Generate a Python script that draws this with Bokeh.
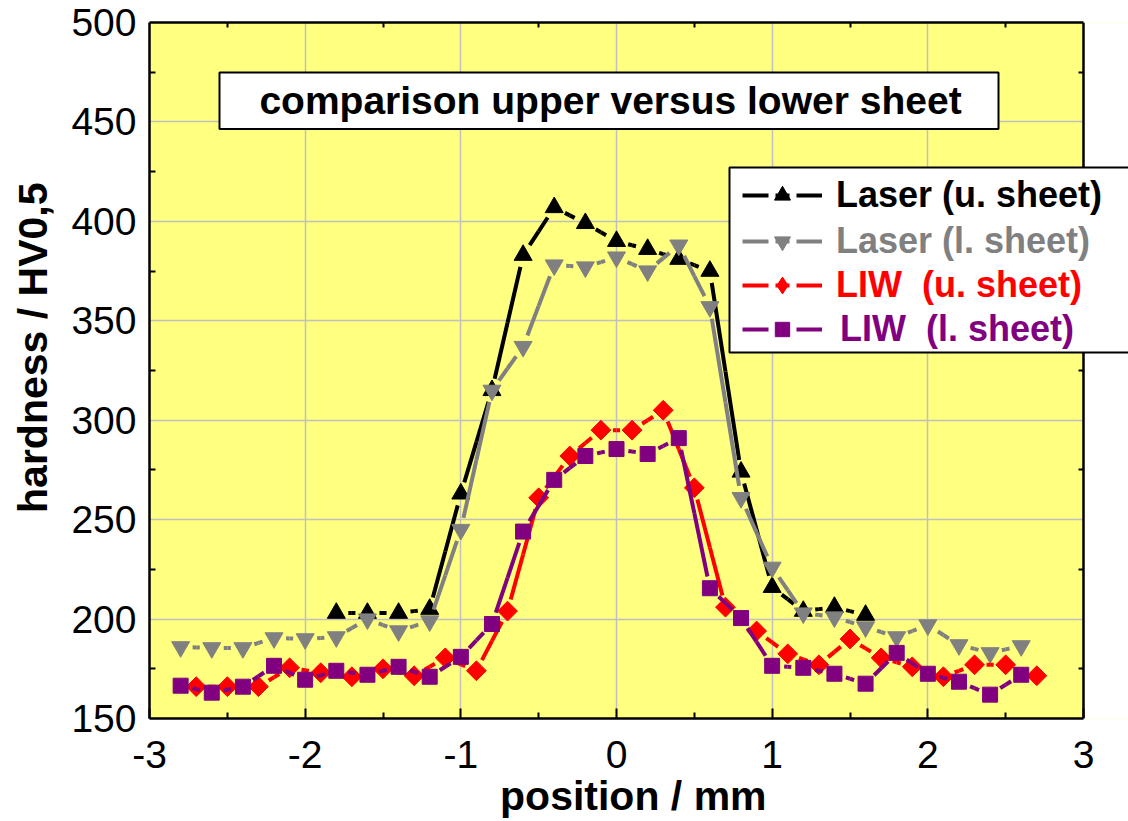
import numpy as np
from bokeh.plotting import figure
from bokeh.models import (FixedTicker, LinearAxis, Legend, LegendItem, Label,
                          BoxAnnotation, CustomJSTickFormatter)
from bokeh.embed import file_html
from bokeh.resources import INLINE

# ---------------- data ----------------
x_laser_u = [-1.8, -1.6, -1.4, -1.2, -1.0, -0.8, -0.6, -0.4, -0.2, 0.0,
             0.2, 0.4, 0.6, 0.8, 1.0, 1.2, 1.4, 1.6]
hv_laser_u = [203, 203, 203, 205, 263, 315, 383, 407, 399, 390,
              386, 381, 375, 274, 216, 204, 206, 202]

x_laser_l = [-2.8, -2.6, -2.4, -2.2, -2.0, -1.8, -1.6, -1.4, -1.2, -1.0,
             -0.8, -0.6, -0.4, -0.2, 0.0, 0.2, 0.4, 0.6, 0.8, 1.0,
             1.2, 1.4, 1.6, 1.8, 2.0, 2.2, 2.4, 2.6]
hv_laser_l = [186, 185.5, 185.5, 190.5, 190, 191, 200, 194, 199, 245,
              315, 337, 378, 377, 382, 375, 388, 357, 261, 226,
              203, 201, 196, 191, 197, 187, 183, 186.5]

x_liw_u = [-2.7, -2.5, -2.3, -2.1, -1.9, -1.7, -1.5, -1.3, -1.1, -0.9,
           -0.7, -0.5, -0.3, -0.1, 0.1, 0.3, 0.5, 0.7, 0.9, 1.1,
           1.3, 1.5, 1.7, 1.9, 2.1, 2.3, 2.5, 2.7]
hv_liw_u = [166, 166, 166, 175.5, 173, 171, 175, 171.5, 180.5, 174,
            204, 261, 282, 295, 295, 305, 266, 206, 194, 182.5,
            177, 190, 180.5, 176, 171, 177, 177, 171.5]

x_liw_l = [-2.8, -2.6, -2.4, -2.2, -2.0, -1.8, -1.6, -1.4, -1.2, -1.0,
           -0.8, -0.6, -0.4, -0.2, 0.0, 0.2, 0.4, 0.6, 0.8, 1.0,
           1.2, 1.4, 1.6, 1.8, 2.0, 2.2, 2.4, 2.6]
hv_liw_l = [166.5, 163, 166, 176.5, 169.5, 174, 172, 176, 171, 181,
            197.5, 244, 270, 282, 285.5, 283, 291, 215.5, 200.5, 176.5,
            175.5, 172.5, 167.5, 183, 172.5, 168.5, 162, 172]

series_labels = ["Laser (u. sheet)", "Laser (l. sheet)", "LIW  (u. sheet)", "LIW  (l. sheet)"]

x_ticks = [-3, -2, -1, 0, 1, 2, 3]
x_tick_labels = ["-3", "-2", "-1", "0", "1", "2", "3"]
y_ticks = [150, 200, 250, 300, 350, 400, 450, 500]
y_tick_labels = ["150", "200", "250", "300", "350", "400", "450", "500"]

x_title = "position / mm"
y_title = "hardness / HV0,5"
note_text = "comparison upper versus lower sheet"

# ---------------- styling ----------------
FONT = "Liberation Sans"
BG = "#FFFF80"
GRID = "#C0C0C0"
colors = ["#000000", "#808080", "#FF0000", "#800080"]
LW = 4
NBSP = "\u00a0"

# plot area: x=-3..3 spans 934 px starting at px 149; frame continues to the
# right page edge so that the legend may overhang the plot area like the original
PX_PER_X = 934 / 6.0
PX_PER_Y = 696 / 350.0
X_END = -3 + (1128 - 149) / PX_PER_X

p = figure(width=1128, height=821, x_range=(-3, X_END), y_range=(150, 500),
           output_backend="svg", toolbar_location=None,
           min_border_left=149, min_border_right=0,
           min_border_top=22, min_border_bottom=103)
p.background_fill_color = BG
p.border_fill_color = "white"
p.outline_line_color = None

x_minor = [t + 0.5 for t in x_ticks[:-1]]
y_minor = [t + 25 for t in y_ticks[:-1]]
blank = CustomJSTickFormatter(code="return ''")

xa = p.xaxis[0]
xa.bounds = (x_ticks[0], x_ticks[-1])
xa.ticker = FixedTicker(ticks=x_ticks, minor_ticks=x_minor)
xa.major_label_overrides = {t: s for t, s in zip(x_ticks, x_tick_labels)}
xa.major_label_text_font = FONT
xa.major_label_text_font_size = "39px"
xa.major_label_text_color = "black"
xa.major_label_standoff = 22
xa.major_tick_in = 10
xa.major_tick_out = 0
xa.minor_tick_in = 6
xa.minor_tick_out = 0
xa.axis_line_width = 2.5
xa.major_tick_line_width = 2
xa.minor_tick_line_width = 2
xa.axis_label = x_title + NBSP
xa.axis_label_text_font = FONT
xa.axis_label_text_font_size = "41px"
xa.axis_label_text_font_style = "bold"
xa.axis_label_text_color = "black"
xa.axis_label_standoff = 2

ya = p.yaxis[0]
ya.ticker = FixedTicker(ticks=y_ticks, minor_ticks=y_minor)
ya.major_label_overrides = {t: s for t, s in zip(y_ticks, y_tick_labels)}
ya.major_label_text_font = FONT
ya.major_label_text_font_size = "39px"
ya.major_label_text_color = "black"
ya.major_label_standoff = 13
ya.major_tick_in = 0
ya.major_tick_out = 0
ya.minor_tick_in = 6
ya.minor_tick_out = 0
ya.axis_line_width = 2.5
ya.minor_tick_line_width = 2
ya.axis_label = NBSP * 4 + y_title
ya.axis_label_text_font = FONT
ya.axis_label_text_font_size = "41px"
ya.axis_label_text_font_style = "bold"
ya.axis_label_text_color = "black"
ya.axis_label_standoff = 12

top_ax = LinearAxis(ticker=FixedTicker(ticks=x_ticks, minor_ticks=x_minor), formatter=blank,
                    bounds=(x_ticks[0], x_ticks[-1]),
                    major_tick_in=0, major_tick_out=0, minor_tick_in=5, minor_tick_out=0,
                    major_label_text_font_size="0px", major_label_standoff=0,
                    axis_line_width=2.5, minor_tick_line_width=2)
p.add_layout(top_ax, "above")

# right border of the plot area, drawn as an axis fixed at x = 3
right_ax = LinearAxis(ticker=FixedTicker(ticks=y_ticks, minor_ticks=y_minor), formatter=blank,
                      fixed_location=x_ticks[-1],
                      major_tick_in=0, major_tick_out=0, minor_tick_in=0, minor_tick_out=5,
                      major_label_text_font_size="0px", major_label_standoff=0,
                      axis_line_width=2.5, minor_tick_line_width=2)
p.add_layout(right_ax, "left")

for g in p.grid:
    g.grid_line_color = GRID
    g.grid_line_width = 1.5
p.xgrid.ticker = FixedTicker(ticks=x_ticks)
p.ygrid.ticker = FixedTicker(ticks=y_ticks)

# white page to the right of the plot area (covers yellow + grid lines)
p.add_layout(BoxAnnotation(left=x_ticks[-1], right=X_END + 1, top=600, bottom=0,
                           fill_color="white", fill_alpha=1, line_alpha=0, level="underlay"))


def half_segments(xs, ys):
    xs = np.asarray(xs, dtype=float)
    ys = np.asarray(ys, dtype=float)
    xm = (xs[:-1] + xs[1:]) / 2.0
    ym = (ys[:-1] + ys[1:]) / 2.0
    x0 = np.concatenate([xs[:-1], xs[1:]])
    y0 = np.concatenate([ys[:-1], ys[1:]])
    x1 = np.concatenate([xm, xm])
    y1 = np.concatenate([ym, ym])
    return x0, y0, x1, y1


series = [
    (x_laser_u, hv_laser_u, "triangle", 18, 0.0),
    (x_laser_l, hv_laser_l, "inverted_triangle", 18, 0.0),
    (x_liw_u, hv_liw_u, "square", 14, np.pi / 4),
    (x_liw_l, hv_liw_l, "square", 15, 0.0),
]

scatters = []
for (xs, ys, mk, sz, ang), col in zip(series, colors):
    x0, y0, x1, y1 = half_segments(xs, ys)
    p.segment(x0=x0, y0=y0, x1=x1, y1=y1, line_color=col, line_width=LW,
              line_dash="1 11 1000")
    s = p.scatter(x=xs, y=ys, marker=mk, size=sz, angle=ang,
                  fill_color=col, line_color=col, line_width=1)
    scatters.append(s)


def dx(px):
    return -3 + (px - 149) / PX_PER_X


def dy(py):
    return 500 - (py - 22) / PX_PER_Y


# ---------------- note box ----------------
p.add_layout(BoxAnnotation(left=dx(219), right=dx(998), top=dy(72), bottom=dy(128.5),
                           fill_color="white", fill_alpha=1, line_color="black",
                           line_width=2, line_alpha=1))
p.add_layout(Label(x=dx(610), y=dy(99.5), text=note_text, text_align="center",
                   text_baseline="alphabetic", text_font=FONT, text_font_size="39px",
                   text_font_style="bold", text_color="black"))

# ---------------- legend ----------------
p.add_layout(BoxAnnotation(left=dx(729), right=X_END + 1, top=dy(167), bottom=dy(352),
                           fill_color="white", fill_alpha=1, line_color="black",
                           line_width=2, line_alpha=1))

nan1 = [np.nan]
centers = [196, 241.5, 285.5, 329.5]
standoffs = [14, 14, 14, 18]
for i, col in enumerate(colors):
    # legend-only sample line (dash with gaps around the symbol)
    proxy_line = p.segment(x0=nan1, y0=nan1, x1=nan1, y1=nan1, line_color=col,
                           line_width=LW, line_dash="26 7 14 7 26")
    if i == 2:
        mark = p.scatter(x=nan1, y=nan1, marker="diamond", fill_color=col,
                         line_color=col, line_width=1)
        gh = 42
    elif i == 3:
        mark = scatters[i]
        gh = 36
    else:
        mark = scatters[i]
        gh = 40
    h = 40
    leg = Legend(items=[LegendItem(label=series_labels[i], renderers=[proxy_line, mark])],
                 location=(742 - 149, 718 - (centers[i] + h / 2)),
                 glyph_width=80, glyph_height=gh, label_height=40,
                 label_standoff=standoffs[i], label_text_font=FONT,
                 label_text_font_size="36px", label_text_font_style="bold",
                 label_text_color=col, padding=0, margin=0, spacing=0,
                 border_line_alpha=0, background_fill_alpha=0)
    p.add_layout(leg)

open("out.html", "w").write(file_html(p, INLINE))
